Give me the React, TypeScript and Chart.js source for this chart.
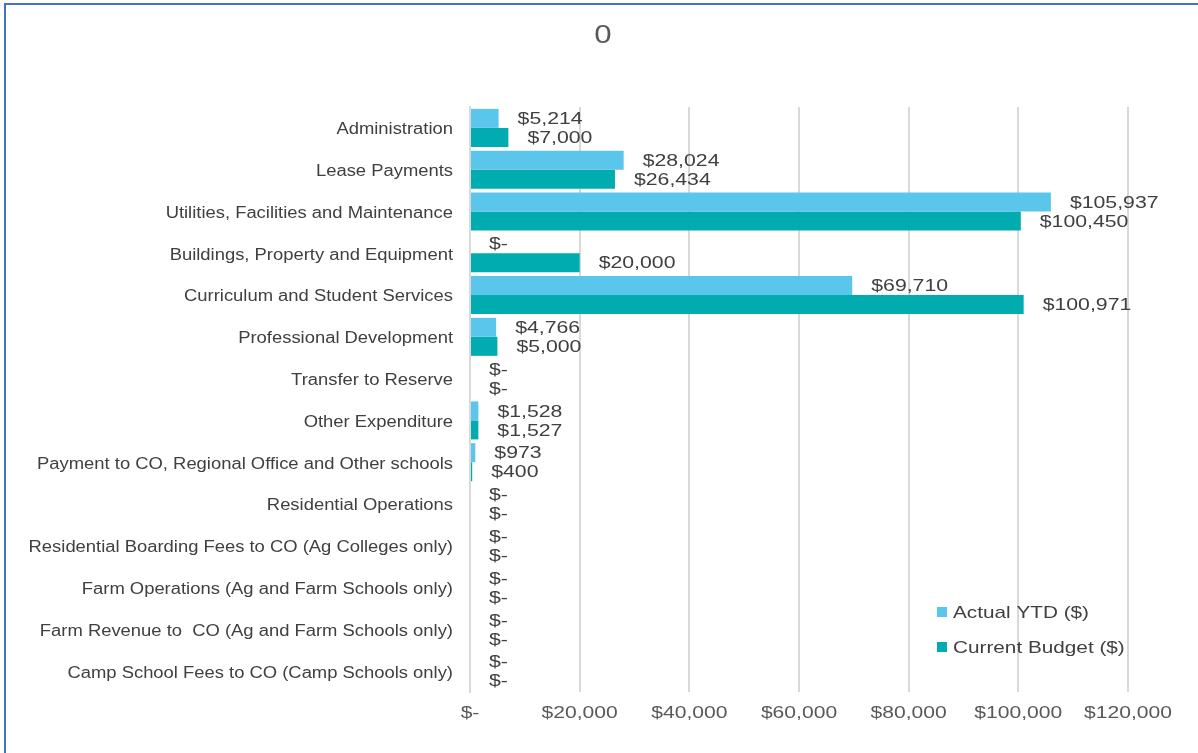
import React, { useEffect, useRef } from "react";
import { Chart, registerables } from "chart.js";

Chart.register(...registerables);

const categories = [
  "Administration",
  "Lease Payments",
  "Utilities, Facilities and Maintenance",
  "Buildings, Property and Equipment",
  "Curriculum and Student Services",
  "Professional Development",
  "Transfer to Reserve",
  "Other Expenditure",
  "Payment to CO, Regional Office and Other schools",
  "Residential Operations",
  "Residential Boarding Fees to CO (Ag Colleges only)",
  "Farm Operations (Ag and Farm Schools only)",
  "Farm Revenue to  CO (Ag and Farm Schools only)",
  "Camp School Fees to CO (Camp Schools only)",
];

const actualYTD = [5214, 28024, 105937, 0, 69710, 4766, 0, 1528, 973, 0, 0, 0, 0, 0];
const currentBudget = [7000, 26434, 100450, 20000, 100971, 5000, 0, 1527, 400, 0, 0, 0, 0, 0];

const seriesNames = ["Actual YTD ($)", "Current Budget ($)"];
const seriesColors = ["#5BC6EB", "#00ACB0"];

const xTickValues = [0, 20000, 40000, 60000, 80000, 100000, 120000];
const chartTitle = "0";

const FONT = "'Liberation Sans', Arial, sans-serif";

const fmt = (v: number) => (v === 0 ? "$-" : "$" + v.toLocaleString("en-US"));

function drawText(
  ctx: CanvasRenderingContext2D,
  text: string,
  x: number,
  y: number,
  size: number,
  sx: number,
  color: string,
  align: CanvasTextAlign
) {
  ctx.save();
  ctx.translate(x, y);
  ctx.scale(sx, 1);
  ctx.font = `${size}px ${FONT}`;
  ctx.fillStyle = color;
  ctx.textAlign = align;
  ctx.textBaseline = "middle";
  ctx.fillText(text, 0, 0);
  ctx.restore();
}

const textPlugin = {
  id: "texts",
  afterDraw(chart: any) {
    const ctx = chart.ctx as CanvasRenderingContext2D;
    // data labels
    chart.data.datasets.forEach((ds: any, di: number) => {
      const meta = chart.getDatasetMeta(di);
      meta.data.forEach((el: any, i: number) => {
        drawText(ctx, fmt(ds.data[i]), el.x + 19, el.y + 1, 17, 1.25, "#404040", "left");
      });
    });
    // y category labels
    const ys = chart.scales.y;
    chart.data.labels.forEach((lab: string, i: number) => {
      drawText(ctx, lab, ys.right - 17, ys.getPixelForValue(i) + 2, 16, 1.15, "#404040", "right");
    });
    // x tick labels
    const xs = chart.scales.x;
    xTickValues.forEach((v) => {
      drawText(ctx, fmt(v), xs.getPixelForValue(v), 713, 17, 1.24, "#595959", "center");
    });
    // title
    drawText(ctx, chartTitle, 603, 36, 25, 1.25, "#595959", "center");
    // legend
    chart.data.datasets.forEach((ds: any, i: number) => {
      const y = 612 + i * 35;
      ctx.fillStyle = ds.backgroundColor;
      ctx.fillRect(937, y - 5, 10, 10);
      drawText(ctx, ds.label, 953, y + 1, 17, 1.22, "#404040", "left");
    });
  },
};

export default function App() {
  const ref = useRef<HTMLCanvasElement>(null);
  useEffect(() => {
    if (!ref.current) return;
    const chart = new Chart(ref.current, {
      type: "bar",
      data: {
        labels: categories,
        datasets: [
          { label: seriesNames[0], data: actualYTD, backgroundColor: seriesColors[0] },
          { label: seriesNames[1], data: currentBudget, backgroundColor: seriesColors[1] },
        ],
      },
      options: {
        indexAxis: "y",
        animation: false,
        responsive: false,
        maintainAspectRatio: false,
        layout: { padding: { top: 107, right: 70, left: 0, bottom: 0 } },
        datasets: { bar: { categoryPercentage: 0.91, barPercentage: 1 } },
        plugins: {
          legend: { display: false },
          title: { display: false },
          tooltip: { enabled: false },
        },
        scales: {
          x: {
            min: 0,
            max: 120000,
            afterBuildTicks: (scale: any) => {
              scale.ticks = xTickValues.map((v) => ({ value: v }));
            },
            afterFit: (scale: any) => {
              scale.height = 61;
            },
            ticks: { display: false, autoSkip: false },
            grid: { color: "#D9D9D9", lineWidth: 2, drawTicks: false },
            border: { display: false },
          },
          y: {
            afterFit: (scale: any) => {
              scale.width = 470;
            },
            ticks: { display: false, autoSkip: false },
            grid: { display: false, drawTicks: false },
            border: { display: true, color: "#D9D9D9", width: 2 },
          },
        },
      },
      plugins: [textPlugin],
    });
    return () => chart.destroy();
  }, []);

  return (
    <div style={{ position: "fixed", left: 0, top: 0, width: 1198, height: 753, background: "#fff" }}>
      <div
        style={{
          position: "absolute",
          left: 4,
          top: 3,
          right: 0,
          bottom: 0,
          borderTop: "2px solid #4472C4",
          borderLeft: "2px solid #4472C4",
        }}
      />
      <canvas ref={ref} width={1198} height={753} style={{ position: "absolute", left: 0, top: 0 }} />
    </div>
  );
}
